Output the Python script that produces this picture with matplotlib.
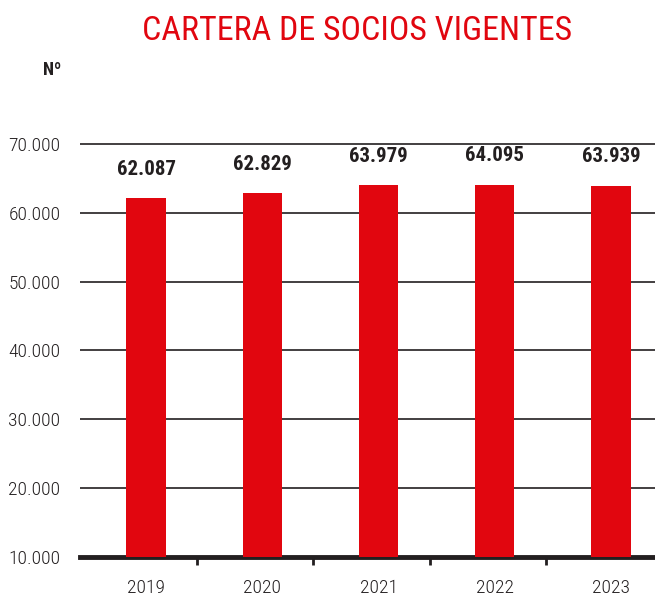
import matplotlib
matplotlib.use('Agg')
import matplotlib.pyplot as plt
from matplotlib import font_manager

# data
years = ['2019', '2020', '2021', '2022', '2023']
socios = [62087, 62829, 63979, 64095, 63939]
value_labels = ['62.087', '62.829', '63.979', '64.095', '63.939']
y_ticks = [10000, 20000, 30000, 40000, 50000, 60000, 70000]
y_tick_labels = ['10.000', '20.000', '30.000', '40.000', '50.000', '60.000', '70.000']

# pick a narrow font if one is installed
installed = {f.name for f in font_manager.fontManager.ttflist}
font = 'DejaVu Sans'
for name in ['Roboto Condensed', 'Liberation Sans Narrow', 'DejaVu Sans Condensed']:
    if name in installed:
        font = name
        break
plt.rcParams['font.family'] = [font, 'DejaVu Sans']

red = '#e1060f'
ink = '#231f20'

fig = plt.figure(figsize=(6.55, 5.98), dpi=100)
ax = fig.add_axes([80 / 655, 41 / 598, 575 / 655, 420 / 598])

x = range(len(years))
ax.bar(x, [v - 10000 for v in socios], bottom=10000, width=0.34, color=red, zorder=3)

# value labels on top of the bars
for i, v in enumerate(socios):
    ax.annotate(value_labels[i], (i, v), xytext=(0, 14), textcoords='offset points',
                ha='center', va='bottom', fontsize=15, fontweight='bold', color=ink)

ax.set_xlim(-0.57, 4.38)
ax.set_ylim(10000, 71000)

ax.set_yticks(y_ticks)
ax.set_yticklabels(y_tick_labels, fontsize=14, fontweight='light', color=ink)
ax.tick_params(axis='y', length=0, pad=14)
ax.yaxis.grid(True, color=ink, linewidth=1.2)
ax.set_axisbelow(True)

# year labels under the bars, small separators slightly left of the midpoints
ax.set_xticks(list(x))
ax.set_xticklabels(years, fontsize=14, fontweight='light', color=ink)
ax.set_xticks([i + 0.44 for i in range(len(years) - 1)], minor=True)
ax.tick_params(axis='x', which='major', length=0, pad=16)
ax.tick_params(axis='x', which='minor', length=6, width=2, direction='out', color=ink)

for side in ['top', 'right', 'left']:
    ax.spines[side].set_visible(False)
ax.spines['bottom'].set_linewidth(3.5)
ax.spines['bottom'].set_color(ink)

fig.text(357 / 655, 1 - 31 / 598, 'CARTERA DE SOCIOS VIGENTES', ha='center', va='center',
         fontsize=24.5, color=red)
fig.text(43 / 655, 1 - 70 / 598, 'Nº', ha='left', va='center', fontsize=13,
         fontweight='bold', color=ink)

fig.savefig('out.png', dpi=100)
